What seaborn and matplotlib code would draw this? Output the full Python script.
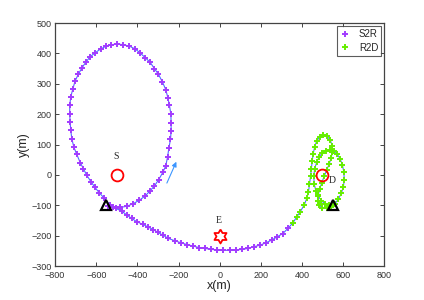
import numpy as np
import pandas as pd
import matplotlib
matplotlib.use("Agg")
import matplotlib.pyplot as plt
import seaborn as sns

# trayectoria del relay, tramo fuente -> relay (S2R)
s2r_x = [-545, -517, -484, -451, -419, -390, -362, -338, -317, -296, -276, -262,
         -253, -247, -239, -236, -236, -237, -244, -252, -262, -278, -298, -317,
         -338, -362, -387, -411, -439, -468, -497, -526, -552, -578, -604, -630,
         -651, -670, -687, -703, -714, -724, -729, -729, -727, -724, -719, -709,
         -695, -678, -662, -646, -625, -606, -585, -560, -533, -505, -476, -451,
         -427, -403, -375, -349, -322, -300, -276, -249, -216, -189, -160, -130,
         -100, -70, -41, -11, 18, 48, 80, 108, 137, 168, 197, 226, 254, 281, 307,
         332, 356]
s2r_y = [-102, -105, -107, -103, -94, -83, -69, -52, -36, -15, 9, 30,
         60, 88, 117, 144, 171, 200, 229, 255, 281, 306, 332, 350,
         371, 386, 402, 415, 424, 429, 431, 429, 424, 415, 403, 389,
         371, 352, 332, 309, 283, 257, 229, 201, 174, 147, 120, 92,
         68, 41, 20, -1, -23, -41, -59, -77, -99, -110, -119, -132,
         -143, -154, -162, -171, -180, -189, -198, -209, -217, -223, -229, -234,
         -239, -242, -245, -247, -248, -248, -247, -245, -242, -236, -231, -223, -214, -203, -193,
         -176, -158]

# tramo relay -> destino (R2D)
r2d_x = [356, 375, 392, 411, 424, 432, 437, 442, 446, 450, 455, 462, 472, 487,
         505, 523, 538, 547, 548, 542, 532, 520, 508, 497, 487, 480, 478, 485,
         500, 520, 540, 560, 577, 592, 602, 606, 604, 597, 586, 572, 555, 537,
         518, 500, 484, 472, 462, 458, 460, 468, 480, 495, 512, 530, 550]
r2d_y = [-158, -138, -121, -99, -77, -56, -30, -5, 20, 45, 70, 92, 112, 125,
         131, 127, 115, 97, 75, 55, 35, 15, -5, -25, -45, -65, -85, -100,
         -108, -110, -105, -95, -80, -60, -38, -15, 10, 33, 53, 68, 78, 82,
         80, 73, 60, 42, 20, -5, -30, -52, -70, -85, -95, -100, -100]

# nodos
src = (-500, 0)
dst = (500, 0)
eve = (0, -200)
tri_x = [-555, 550]
tri_y = [-100, -100]

xticks = list(range(-800, 801, 200))
yticks = list(range(-300, 501, 100))

sns.set_style("ticks")
plt.rcParams['font.family'] = ['Liberation Sans', 'DejaVu Sans']

fig = plt.figure(figsize=(4.24, 3.0), dpi=100)
ax = fig.add_axes([0.130, 0.113, 0.776, 0.810])

path = pd.DataFrame({"x": s2r_x + r2d_x[1:], "y": s2r_y + r2d_y[1:]})
sns.lineplot(data=path, x="x", y="y", sort=False, estimator=None,
             color="#4f6fff", linewidth=0.8, ax=ax, legend=False)

ax.plot(s2r_x, s2r_y, ls="none", marker="+", ms=3.8, mew=1.4,
        color="#a23cff", label="S2R")
ax.plot(r2d_x, r2d_y, ls="none", marker="+", ms=3.8, mew=1.4,
        color="#66ee00", label="R2D")

# S y D
ax.plot([src[0], dst[0]], [src[1], dst[1]], ls="none", marker="o", ms=8.5,
        mfc="none", mec="red", mew=1.3)
# E (estrella de seis puntas)
ang = np.deg2rad(np.arange(12) * 30 + 90)
rad = np.where(np.arange(12) % 2 == 0, 1.0, 1 / np.sqrt(3))
star = list(zip(rad * np.cos(ang), rad * np.sin(ang)))
star.append(star[0])
ax.plot(eve[0], eve[1], ls="none", marker=star, ms=10, mfc="none", mec="red", mew=1.3)
# inicio/fin del relay
ax.plot(tri_x, tri_y, ls="none", marker="^", ms=7, mfc="none", mec="black", mew=1.6)

ax.text(-503, 62, "S", family=["Liberation Serif", "DejaVu Serif"], fontsize=7,
        ha="center", va="center")
ax.text(528, -17, "D", family=["Liberation Serif", "DejaVu Serif"], fontsize=7,
        ha="left", va="center")
ax.text(-6, -150, "E", family=["Liberation Serif", "DejaVu Serif"], fontsize=7,
        ha="center", va="center")

ax.annotate("", xy=(-205, 52), xytext=(-262, -35),
            arrowprops=dict(arrowstyle="-|>", color="#3c96ff", lw=0.8,
                            mutation_scale=7))

ax.set_xlim(-800, 800)
ax.set_ylim(-300, 500)
ax.set_xticks(xticks)
ax.set_yticks(yticks)
ax.tick_params(direction="in", length=3, width=0.6, labelsize=6.5,
               labelcolor="#333333", top=True, right=True)
ax.tick_params(axis="x", pad=3.5)
ax.tick_params(axis="y", pad=2.5)
for sp in ax.spines.values():
    sp.set_visible(True)
    sp.set_linewidth(0.9)
    sp.set_color("#444444")
ax.set_xlabel("x(m)", fontsize=9, labelpad=0)
ax.set_ylabel("y(m)", fontsize=9, labelpad=1)

leg = ax.legend(loc="upper right", fontsize=7, frameon=True, fancybox=False,
                borderaxespad=0.3, handlelength=1.2, handletextpad=0.8,
                borderpad=0.3, labelspacing=0.4)
leg.get_frame().set_edgecolor("#333333")
leg.get_frame().set_linewidth(0.8)

fig.savefig("out.png", dpi=100)
